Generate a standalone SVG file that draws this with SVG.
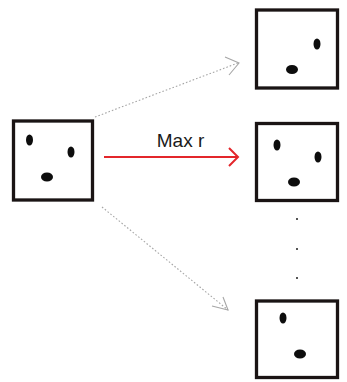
<svg xmlns="http://www.w3.org/2000/svg" width="347" height="382" viewBox="0 0 347 382">
  <defs>
    <style>
      .box { fill: #ffffff; stroke: #1a1414; stroke-width: 3.3; }
      .spot { fill: #0d0d0d; }
      .link { fill: none; stroke: #a6a6a6; stroke-width: 1.1; stroke-dasharray: 1.6 2; }
      .head { fill: none; stroke: #a6a6a6; stroke-width: 1.1; }
      .best { fill: none; stroke: #e3262b; stroke-width: 2; }
      .label { font-family: "Liberation Sans", Arial, sans-serif; font-size: 19px; fill: #1a1a1a; }
      .ellipsis { fill: #555555; }
    </style>
  </defs>

  <!-- source state -->
  <g id="source">
    <rect class="box" x="13.5" y="121" width="79" height="79"/>
    <ellipse class="spot" cx="29.5" cy="140" rx="3.5" ry="5.5"/>
    <ellipse class="spot" cx="71" cy="152" rx="3.5" ry="5.5"/>
    <ellipse class="spot" cx="47" cy="177" rx="6" ry="4.5"/>
  </g>

  <!-- candidate states -->
  <g id="candidate-top">
    <rect class="box" x="256.5" y="10" width="81" height="78"/>
    <ellipse class="spot" cx="317" cy="44" rx="3.5" ry="5.5"/>
    <ellipse class="spot" cx="292" cy="69.5" rx="6" ry="4.5"/>
  </g>

  <g id="candidate-best">
    <rect class="box" x="256.5" y="123.5" width="81" height="77"/>
    <ellipse class="spot" cx="277" cy="145" rx="3.5" ry="5.5"/>
    <ellipse class="spot" cx="318" cy="157" rx="3.5" ry="5.5"/>
    <ellipse class="spot" cx="294" cy="182" rx="6" ry="4.5"/>
  </g>

  <g id="candidate-bottom">
    <rect class="box" x="256.5" y="301" width="81" height="76.5"/>
    <ellipse class="spot" cx="283" cy="318" rx="3.5" ry="5.5"/>
    <ellipse class="spot" cx="300" cy="354" rx="6" ry="4.5"/>
  </g>

  <!-- vertical ellipsis between candidates -->
  <g id="more">
    <rect class="ellipsis" x="296" y="218" width="2" height="2"/>
    <rect class="ellipsis" x="296" y="248" width="2" height="2"/>
    <rect class="ellipsis" x="296" y="277" width="2" height="2"/>
  </g>

  <!-- transitions -->
  <g id="connectors">
    <path class="link" d="M95,117 L238,63"/>
    <path class="head" d="M225,57 L239,63 L229,75"/>

    <path class="best" d="M104,157 L238,157"/>
    <path class="best" d="M229,148 L238,157 L229,166"/>
    <text class="label" x="180.5" y="147" text-anchor="middle">Max r</text>

    <path class="link" d="M102,207 L228,310"/>
    <path class="head" d="M212,306 L228,310 L223,297"/>
  </g>
</svg>
